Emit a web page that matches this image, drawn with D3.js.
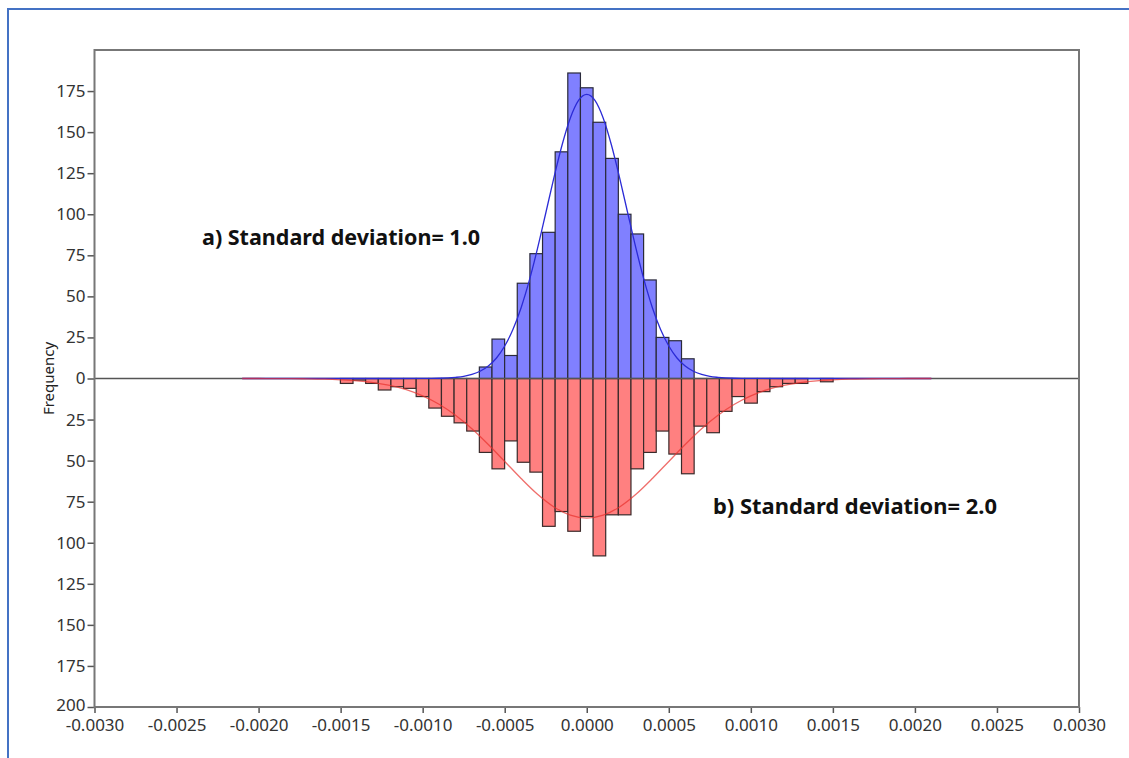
<!DOCTYPE html>
<html><head><meta charset="utf-8">
<script src="https://cdn.jsdelivr.net/npm/d3@7"></script>
<style>body{margin:0;background:#fff;overflow:hidden}</style>
</head><body>
<svg id="c" width="1129" height="758"></svg>
<script>
// Histogram bins (regular width, indices -19..19 around 0)
const binWidth = 0.000077;
const binIndex = d3.range(-19, 20);
// a) SD = 1.0 (upper, blue) counts per bin
const countsA = [0,0,0,0,0,0,0,0,0,0,0,
  7,24,14,58,76,89,138,186,177,156,134,100,88,60,25,23,12,
  0,0,0,0,0,0,0,0,0,0,0];
// b) SD = 2.0 (lower, red) counts per bin
const countsB = [3,1,3,7,5,6,11,18,23,27,32,45,55,38,51,57,90,81,93,
  84,108,83,83,55,45,32,46,58,29,33,20,11,15,8,5,3,3,0,2];
// fitted normal curves
const curveAx = [-0.0021,-0.0015,-0.0012,-0.0010,-0.0009,-0.0008,-0.00075,-0.0007,-0.00065,-0.0006,-0.00055,-0.0005,-0.00045,-0.0004,-0.00035,-0.0003,-0.00025,-0.0002,-0.00015,-0.0001,-0.00005,0,
  0.00005,0.0001,0.00015,0.0002,0.00025,0.0003,0.00035,0.0004,0.00045,0.0005,0.00055,0.0006,0.00065,0.0007,0.00075,0.0008,0.0009,0.0010,0.0012,0.0015,0.0021];
const curveAy = [0,0,0,0.03,0.15,0.7,1.3,2.5,4.4,7.6,12.5,19.8,29.8,43.1,59.7,79.2,100.6,122.3,142.3,158.6,169.3,173,
  169.3,158.6,142.3,122.3,100.6,79.2,59.7,43.1,29.8,19.8,12.5,7.6,4.4,2.5,1.3,0.7,0.15,0.03,0,0,0];
const curveBx = [-0.0021,-0.0020,-0.0019,-0.0018,-0.0017,-0.0016,-0.0015,-0.0014,-0.0013,-0.0012,-0.0011,-0.0010,-0.0009,-0.0008,-0.0007,-0.0006,-0.0005,-0.0004,-0.0003,-0.0002,-0.0001,0,
  0.0001,0.0002,0.0003,0.0004,0.0005,0.0006,0.0007,0.0008,0.0009,0.0010,0.0011,0.0012,0.0013,0.0014,0.0015,0.0016,0.0017,0.0018,0.0019,0.0020,0.0021];
const curveBy = [0,0,0.05,0.1,0.2,0.4,0.8,1.4,2.5,4.2,6.8,10.6,15.7,22.4,30.6,40.2,50.5,60.9,70.5,78.2,83.2,85,
  83.2,78.2,70.5,60.9,50.5,40.2,30.6,22.4,15.7,10.6,6.8,4.2,2.5,1.4,0.8,0.4,0.2,0.1,0.05,0,0];
const xTicks = [-0.003,-0.0025,-0.002,-0.0015,-0.001,-0.0005,0,0.0005,0.001,0.0015,0.002,0.0025,0.003];
const yTicks = [-200,-175,-150,-125,-100,-75,-50,-25,0,25,50,75,100,125,150,175];
const labelA = "a) Standard deviation= 1.0";
const labelB = "b) Standard deviation= 2.0";

const svg = d3.select("#c");
const L = 94.5, R = 1079, T = 50, B = 707;
const x = d3.scaleLinear().domain([-0.003, 0.003]).range([L, R]);
const y = d3.scaleLinear().domain([-200, 200]).range([B, T]);
const font = "'Noto Sans', 'Open Sans', sans-serif";

// outer blue border
svg.append("rect").attr("x", 8).attr("y", 9).attr("width", 1300).attr("height", 900)
  .attr("fill", "none").attr("stroke", "#4472c4").attr("stroke-width", 2);

const binsA = binIndex.map((k, i) => ({c: k * binWidth, v: countsA[i]})).filter(d => d.v > 0);
const binsB = binIndex.map((k, i) => ({c: k * binWidth, v: countsB[i]})).filter(d => d.v > 0);

svg.append("g").selectAll("rect").data(binsB).join("rect")
  .attr("x", d => x(d.c - binWidth / 2))
  .attr("width", d => x(d.c + binWidth / 2) - x(d.c - binWidth / 2))
  .attr("y", y(0))
  .attr("height", d => y(-d.v) - y(0))
  .attr("fill", "#ff8080").attr("stroke", "#3a2a2a").attr("stroke-width", 1.2);

svg.append("g").selectAll("rect").data(binsA).join("rect")
  .attr("x", d => x(d.c - binWidth / 2))
  .attr("width", d => x(d.c + binWidth / 2) - x(d.c - binWidth / 2))
  .attr("y", d => y(d.v))
  .attr("height", d => y(0) - y(d.v))
  .attr("fill", "#8080ff").attr("stroke", "#2a2a3a").attr("stroke-width", 1.2);

// zero line
svg.append("line").attr("x1", L).attr("x2", R).attr("y1", y(0)).attr("y2", y(0))
  .attr("stroke", "#555").attr("stroke-width", 1.5);

const lineA = d3.line().x((d, i) => x(curveAx[i])).y(d => y(d)).curve(d3.curveMonotoneX);
const lineB = d3.line().x((d, i) => x(curveBx[i])).y(d => y(-d)).curve(d3.curveMonotoneX);
svg.append("path").attr("d", lineA(curveAy)).attr("fill", "none").attr("stroke", "#2b2bd6").attr("stroke-width", 1.3);
svg.append("path").attr("d", lineB(curveBy)).attr("fill", "none").attr("stroke", "#e8302c").attr("stroke-width", 1.3).attr("stroke-opacity", 0.7);

// axes
const fmtX = v => d3.format(".4f")(v).replace("\u2212", "-");
const ax = svg.append("g").attr("transform", `translate(0,${B})`)
  .call(d3.axisBottom(x).tickValues(xTicks).tickFormat(fmtX).tickSize(6).tickPadding(6));
const ay = svg.append("g").attr("transform", `translate(${L},0)`)
  .call(d3.axisLeft(y).tickValues(yTicks).tickFormat(v => String(Math.abs(v))).tickSize(7).tickPadding(2));
[ax, ay].forEach(g => {
  g.select(".domain").remove();
  g.selectAll(".tick line").attr("stroke", "#555").attr("stroke-width", 1.5);
  g.selectAll(".tick text").attr("fill", "#333").style("font-family", font).style("font-size", "17px");
});
ax.selectAll(".tick text").attr("dy", "0.7em");
ay.selectAll(".tick text").filter(d => d === -200).attr("dy", "0.2em");

// frame
svg.append("rect").attr("x", L).attr("y", T).attr("width", R - L).attr("height", B - T)
  .attr("fill", "none").attr("stroke", "#777").attr("stroke-width", 2);

svg.append("text").attr("transform", `translate(54,${(T + B) / 2}) rotate(-90)`)
  .attr("text-anchor", "middle").style("font-family", font).style("font-size", "15px")
  .attr("fill", "#222").text("Frequency");

svg.append("text").attr("x", 202).attr("y", 245).attr("textLength", 278).attr("lengthAdjust", "spacingAndGlyphs")
  .style("font-family", font).style("font-size", "21px").style("font-weight", "bold").attr("fill", "#111").text(labelA);
svg.append("text").attr("x", 713).attr("y", 514).attr("textLength", 284).attr("lengthAdjust", "spacingAndGlyphs")
  .style("font-family", font).style("font-size", "21px").style("font-weight", "bold").attr("fill", "#111").text(labelB);
</script>
</body></html>
